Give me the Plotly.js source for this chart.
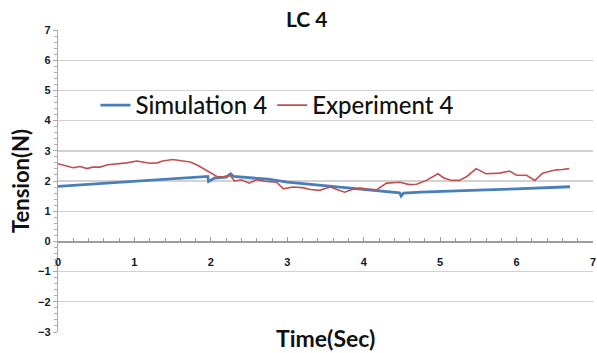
<!DOCTYPE html>
<html>
<head>
<meta charset="utf-8">
<script src="https://cdn.plot.ly/plotly-3.0.1.min.js"></script>
<style>
  html, body { margin: 0; padding: 0; background: #ffffff; }
  #chart { width: 597px; height: 353px; }
</style>
</head>
<body>
<div id="chart"></div>
<script>
// Simulated cable tension, load case 4
const simTime = [0, 0.5, 1.0, 1.5, 1.96, 1.97, 2.05, 2.2, 2.26, 2.3, 2.5, 2.75, 3.0, 3.25, 3.5,
                 3.75, 4.0, 4.25, 4.47, 4.49, 4.52, 4.75, 5.0, 5.5, 6.0, 6.5, 6.7];
const simTension = [1.82, 1.9, 1.99, 2.07, 2.15, 1.98, 2.1, 2.13, 2.24, 2.15, 2.12, 2.06, 1.96, 1.9, 1.84,
                    1.78, 1.71, 1.66, 1.61, 1.5, 1.6, 1.63, 1.66, 1.7, 1.74, 1.78, 1.81];

// Measured cable tension, load case 4
const expTime = [0, 0.1, 0.2, 0.29, 0.38, 0.45, 0.55, 0.65, 0.77, 0.9,
                 1.03, 1.1, 1.2, 1.3, 1.37, 1.5, 1.6, 1.73, 1.82, 1.9,
                 2.0, 2.08, 2.15, 2.25, 2.31, 2.4, 2.5, 2.6, 2.7, 2.86,
                 2.95, 3.07, 3.2, 3.3, 3.42, 3.56, 3.65, 3.75, 3.85, 3.95,
                 4.05, 4.17, 4.3, 4.47, 4.6, 4.69, 4.82, 4.97, 5.05, 5.15,
                 5.25, 5.35, 5.47, 5.6, 5.78, 5.91, 6.0, 6.13, 6.24, 6.34,
                 6.45, 6.52, 6.6, 6.69];
const expTension = [2.57, 2.5, 2.44, 2.48, 2.41, 2.46, 2.46, 2.54, 2.57, 2.6,
                    2.66, 2.64, 2.59, 2.6, 2.66, 2.71, 2.68, 2.63, 2.53, 2.41,
                    2.28, 2.15, 2.13, 2.19, 2.0, 2.04, 1.93, 2.04, 1.99, 1.96,
                    1.74, 1.8, 1.78, 1.72, 1.69, 1.8, 1.72, 1.63, 1.72, 1.77,
                    1.73, 1.71, 1.93, 1.96, 1.88, 1.89, 2.02, 2.24, 2.1, 2.02,
                    2.02, 2.15, 2.41, 2.24, 2.26, 2.33, 2.19, 2.19, 2.02, 2.26,
                    2.33, 2.37, 2.38, 2.41];

const seriesNames = ['Simulation 4', 'Experiment 4'];
const chartTitle = 'LC 4';
const xTitle = 'Time(Sec)';
const yTitle = 'Tension(N)';

const FONT = 'Lato, "Open Sans", sans-serif';
const TICKFONT = { family: '"Liberation Sans", Arial, sans-serif', size: 11, color: '#151a2a' };

const traces = [
  {
    x: simTime, y: simTension, name: seriesNames[0],
    type: 'scatter', mode: 'lines',
    line: { color: '#4a7ebb', width: 2.8 }
  },
  {
    x: expTime, y: expTension, name: seriesNames[1],
    type: 'scatter', mode: 'lines',
    line: { color: '#c0504d', width: 1.6 }
  }
];

const layout = {
  width: 597, height: 353,
  margin: { l: 58, r: 4, t: 30, b: 21 },
  paper_bgcolor: '#ffffff', plot_bgcolor: '#ffffff',
  font: { family: FONT, color: '#111111' },
  title: {
    text: '<b>' + chartTitle + '</b>',
    font: { family: FONT, size: 21, color: '#111111' },
    xref: 'paper', x: 0.465, xanchor: 'center',
    yref: 'container', y: 0.943, yanchor: 'middle'
  },
  showlegend: true,
  legend: {
    orientation: 'h',
    x: 0.07, xanchor: 'left',
    y: 0.75, yanchor: 'middle',
    bgcolor: 'rgba(0,0,0,0)',
    font: { family: FONT, size: 24, color: '#111111', weight: 500 },
    itemwidth: 30,
    tracegroupgap: 0
  },
  xaxis: {
    range: [0, 7], dtick: 1, tick0: 0,
    anchor: 'free', position: 0.3,
    showgrid: false, zeroline: false,
    showline: true, linecolor: '#9c9c9c', linewidth: 1.2,
    ticks: 'inside', ticklen: 4, tickcolor: '#9c9c9c', tickwidth: 1,
    minor: { ticks: 'inside', ticklen: 3, dtick: 0.2, tickcolor: '#9c9c9c', showgrid: false },
    ticklabelstandoff: 10,
    tickprefix: '<b>', ticksuffix: '</b>',
    tickfont: TICKFONT,
    fixedrange: true
  },
  yaxis: {
    range: [-3, 7], dtick: 1, tick0: 0,
    showgrid: true, gridcolor: '#d2d2d2', gridwidth: 1.4,
    zeroline: false,
    showline: true, linecolor: '#a8a8a8', linewidth: 1.2,
    ticks: 'outside', ticklen: 4, tickcolor: '#a8a8a8', tickwidth: 1,
    minor: { ticks: 'outside', ticklen: 3, dtick: 0.2, tickcolor: '#b0b0b0', showgrid: false },
    tickprefix: '<b>', ticksuffix: '</b>',
    tickfont: TICKFONT,
    title: {
      text: '<b>' + yTitle + '</b>',
      font: { family: FONT, size: 22, color: '#111111' },
      standoff: 2
    },
    fixedrange: true
  },
  annotations: [
    {
      text: '<b>' + xTitle + '</b>',
      xref: 'paper', x: 0.5, xanchor: 'center',
      yref: 'paper', y: -0.02, yanchor: 'middle',
      showarrow: false,
      font: { family: FONT, size: 23, color: '#111111' }
    }
  ]
};

Plotly.newPlot('chart', traces, layout, { displayModeBar: false, staticPlot: true });
</script>
</body>
</html>
